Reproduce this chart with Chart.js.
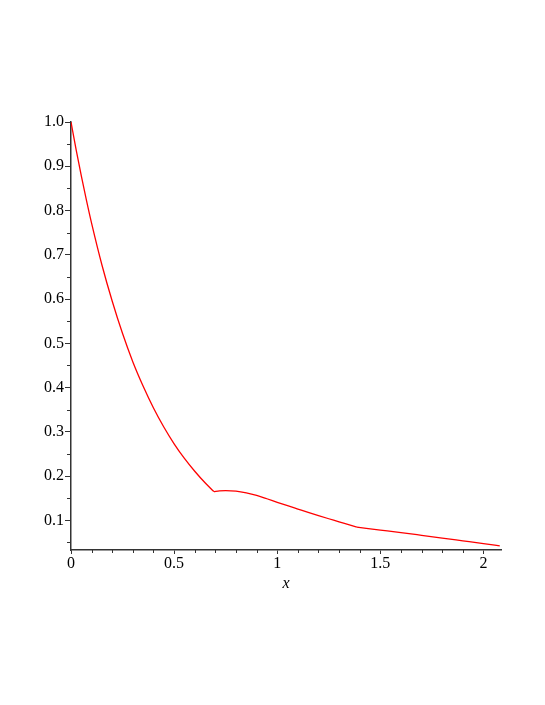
<!DOCTYPE html>
<html>
<head>
<meta charset="utf-8">
<script src="https://cdn.jsdelivr.net/npm/chart.js@4"></script>
<style>
  html, body { margin: 0; padding: 0; background: #ffffff; }
  #wrap { width: 545px; height: 705px; position: relative; }
</style>
</head>
<body>
<div id="wrap"><canvas id="c" width="545" height="705"></canvas></div>
<script>
// Curve samples (three pieces joined at kinks)
const xValues1 = [0, 0.025, 0.05, 0.075, 0.1, 0.15, 0.2, 0.25, 0.3, 0.35, 0.4, 0.45, 0.5, 0.55, 0.6, 0.65, 0.693];
const yValues1 = [1.000, 0.937, 0.878, 0.823, 0.771, 0.677, 0.595, 0.522, 0.458, 0.403, 0.354, 0.311, 0.273, 0.240, 0.211, 0.185, 0.165];
const xValues2 = [0.693, 0.72, 0.75, 0.8, 0.85, 0.9, 0.95, 1.0, 1.05, 1.1, 1.15, 1.2, 1.25, 1.3, 1.35, 1.386];
const yValues2 = [0.165, 0.1665, 0.167, 0.1660, 0.1622, 0.1565, 0.1488, 0.1408, 0.1330, 0.1255, 0.1180, 0.1107, 0.1036, 0.0967, 0.0895, 0.0845];
const xValues3 = [1.386, 1.5, 1.6, 1.7, 1.8, 1.9, 2.0, 2.079];
const yValues3 = [0.0845, 0.0780, 0.0723, 0.0662, 0.0600, 0.0537, 0.0474, 0.0424];
const xTicks = [0, 0.5, 1, 1.5, 2];
const xTickLabels = ["0", "0.5", "1", "1.5", "2"];
const yTicks = [0.1, 0.2, 0.3, 0.4, 0.5, 0.6, 0.7, 0.8, 0.9, 1.0];
const yTickLabels = ["0.1", "0.2", "0.3", "0.4", "0.5", "0.6", "0.7", "0.8", "0.9", "1.0"];
const xMinorTicks = [0.1, 0.2, 0.3, 0.4, 0.6, 0.7, 0.8, 0.9, 1.1, 1.2, 1.3, 1.4, 1.6, 1.7, 1.8, 1.9];
const yMinorTicks = [0.05, 0.15, 0.25, 0.35, 0.45, 0.55, 0.65, 0.75, 0.85, 0.95];
const xTitle = "x";

const axisColor = '#333333';
const toPoints = (xs, ys) => xs.map((x, i) => ({ x: x, y: ys[i] }));
const piece = (xs, ys) => ({
  data: toPoints(xs, ys),
  borderColor: '#ff0000',
  borderWidth: 1.3,
  pointRadius: 0,
  fill: false,
  cubicInterpolationMode: 'monotone'
});

const minorTicksPlugin = {
  id: 'minorTicks',
  afterDraw(chart) {
    const ctx = chart.ctx;
    const xs = chart.scales.x, ys = chart.scales.y;
    ctx.save();
    ctx.strokeStyle = axisColor;
    ctx.lineWidth = 1;
    ctx.beginPath();
    xMinorTicks.forEach(v => {
      const px = Math.round(xs.getPixelForValue(v)) + 0.5;
      ctx.moveTo(px, xs.top);
      ctx.lineTo(px, xs.top + 3);
    });
    yMinorTicks.forEach(v => {
      const py = Math.round(ys.getPixelForValue(v)) + 0.5;
      ctx.moveTo(ys.right, py);
      ctx.lineTo(ys.right - 4, py);
    });
    ctx.stroke();
    ctx.restore();
  }
};

new Chart(document.getElementById('c'), {
  type: 'line',
  data: {
    datasets: [piece(xValues1, yValues1), piece(xValues2, yValues2), piece(xValues3, yValues3)]
  },
  options: {
    responsive: false,
    animation: false,
    events: [],
    layout: { padding: { top: 122, right: 44, left: 0, bottom: 112 } },
    plugins: { legend: { display: false }, tooltip: { enabled: false } },
    scales: {
      x: {
        type: 'linear',
        min: 0,
        max: 2.085,
        afterBuildTicks: (s) => { s.ticks = xTicks.map(v => ({ value: v })); },
        afterFit: (s) => { s.height = 43; },
        ticks: {
          autoSkip: false,
          maxRotation: 0,
          padding: 0,
          color: '#000000',
          font: { family: 'Liberation Serif', size: 16 },
          callback: (v) => { const i = xTicks.indexOf(v); return i >= 0 ? xTickLabels[i] : ''; }
        },
        grid: { display: true, drawOnChartArea: false, drawTicks: true, tickLength: 4, color: axisColor, tickWidth: 1 },
        border: { display: true, color: axisColor, width: 1.5 },
        title: {
          display: true,
          text: xTitle,
          color: '#000000',
          padding: 0,
          font: { family: 'Liberation Serif', size: 16, style: 'italic' }
        }
      },
      y: {
        type: 'linear',
        min: 0.033,
        max: 1.0,
        afterBuildTicks: (s) => { s.ticks = yTicks.map(v => ({ value: v })); },
        afterFit: (s) => { s.width = 71; },
        ticks: {
          autoSkip: false,
          padding: 1,
          color: '#000000',
          font: { family: 'Liberation Serif', size: 16 },
          callback: (v) => { const i = yTicks.findIndex(t => Math.abs(t - v) < 1e-9); return i >= 0 ? yTickLabels[i] : ''; }
        },
        grid: { display: true, drawOnChartArea: false, drawTicks: true, tickLength: 6, color: axisColor, tickWidth: 1 },
        border: { display: true, color: axisColor, width: 1.5 }
      }
    }
  },
  plugins: [minorTicksPlugin]
});
</script>
</body>
</html>
